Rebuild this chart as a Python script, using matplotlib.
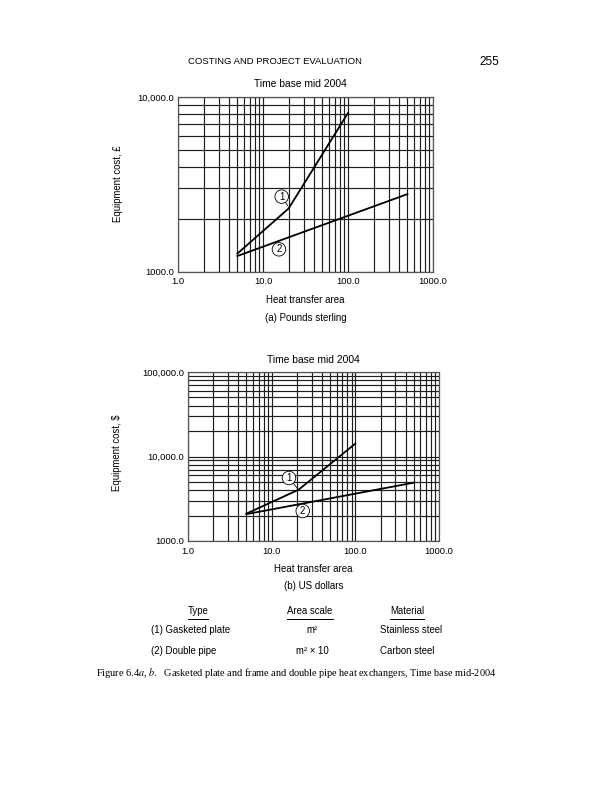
import matplotlib
matplotlib.use("Agg")
import matplotlib.pyplot as plt
from matplotlib.ticker import FixedLocator, FixedFormatter, LogLocator, NullFormatter

plt.rcParams['font.family'] = ['Liberation Sans', 'DejaVu Sans']
plt.rcParams['mathtext.fontset'] = 'stix'

W, H = 612, 800

# chart (a) pounds sterling
a_plate_x = [5, 20, 100]
a_plate_y = [1270, 2300, 8100]
a_pipe_x = [5, 500]
a_pipe_y = [1230, 2780]

# chart (b) US dollars
b_plate_x = [5, 21, 100]
b_plate_y = [2110, 4050, 14200]
b_pipe_x = [5, 500]
b_pipe_y = [2080, 4900]

x_ticks = [1, 10, 100, 1000]
x_labels = ['1.0', '10.0', '100.0', '1000.0']
a_y_ticks = [1000, 10000]
a_y_labels = ['1000.0', '10,000.0']
b_y_ticks = [1000, 10000, 100000]
b_y_labels = ['1000.0', '10,000.0', '100,000.0']

table_head = ['Type', 'Area scale', 'Material']
table_rows = [['(1) Gasketed plate', 'm²', 'Stainless steel'],
              ['(2) Double pipe', 'm² × 10', 'Carbon steel']]


def fx(x):
    return x / W


def fy(y):
    return 1 - y / H


def make_axes(fig, left, top, right, bottom, yticks, ylabels, ylim):
    ax = fig.add_axes([fx(left), fy(bottom), (right - left) / W, (bottom - top) / H])
    ax.set_xscale('log')
    ax.set_yscale('log')
    ax.set_xlim(1, 1000)
    ax.set_ylim(*ylim)
    ax.xaxis.set_major_locator(FixedLocator(x_ticks))
    ax.xaxis.set_major_formatter(FixedFormatter(x_labels))
    ax.xaxis.set_minor_locator(LogLocator(base=10, subs=range(2, 10)))
    ax.xaxis.set_minor_formatter(NullFormatter())
    ax.yaxis.set_major_locator(FixedLocator(yticks))
    ax.yaxis.set_major_formatter(FixedFormatter(ylabels))
    ax.yaxis.set_minor_locator(LogLocator(base=10, subs=range(2, 10)))
    ax.yaxis.set_minor_formatter(NullFormatter())
    ax.tick_params(which='both', length=0, labelsize=6.8)
    ax.tick_params(axis='x', pad=4)
    ax.tick_params(axis='y', pad=3)
    ax.grid(which='both', color='#1e1e1e', linewidth=0.85)
    for s in ax.spines.values():
        s.set_color('#555555')
        s.set_linewidth(0.9)
    return ax


def circled(ax, num, xy, target=None):
    kw = dict(fontsize=7, ha='center', va='center', zorder=5,
              bbox=dict(boxstyle='circle,pad=0.18', fc='white', ec='black', lw=0.6))
    if target is None:
        ax.text(xy[0], xy[1], num, **kw)
    else:
        ax.annotate(num, xy=target, xytext=xy,
                    arrowprops=dict(arrowstyle='-', color='black', lw=0.6,
                                    shrinkA=0, shrinkB=0), **kw)


fig = plt.figure(figsize=(W / 100, H / 100), dpi=100)

fig.text(fx(275), fy(62), 'COSTING AND PROJECT EVALUATION', fontsize=6.8,
         ha='center', va='center')
fig.text(fx(489), fy(62), '255', fontsize=8.5, ha='center', va='center')

# (a)
ax1 = make_axes(fig, 178, 97, 433, 271.7, a_y_ticks, a_y_labels, (1000, 10000))
ax1.plot(a_plate_x, a_plate_y, color='black', lw=1.3, zorder=4)
ax1.plot(a_pipe_x, a_pipe_y, color='black', lw=1.3, zorder=4)
circled(ax1, '1', (16.6, 2690), target=(19.6, 2380))
circled(ax1, '2', (15.4, 1343))
fig.text(fx(300), fy(84), 'Time base mid 2004', fontsize=7.4, ha='center', va='center')
fig.text(fx(118), fy(184), 'Equipment cost, £', fontsize=6.9, rotation=90,
         ha='center', va='center')
fig.text(fx(305.5), fy(300), 'Heat transfer area', fontsize=7, ha='center', va='center')
fig.text(fx(305.5), fy(318), '(a) Pounds sterling', fontsize=7, ha='center', va='center')

# (b)
ax2 = make_axes(fig, 188, 372, 439, 541, b_y_ticks, b_y_labels, (1000, 100000))
ax2.plot(b_plate_x, b_plate_y, color='black', lw=1.3, zorder=4)
ax2.plot(b_pipe_x, b_pipe_y, color='black', lw=1.3, zorder=4)
circled(ax2, '1', (16.1, 5570), target=(20.6, 4120))
circled(ax2, '2', (23.5, 2265))
fig.text(fx(313), fy(360), 'Time base mid 2004', fontsize=7.4, ha='center', va='center')
fig.text(fx(117), fy(453), 'Equipment cost, $', fontsize=6.9, rotation=90,
         ha='center', va='center')
fig.text(fx(313.5), fy(569), 'Heat transfer area', fontsize=7, ha='center', va='center')
fig.text(fx(313.5), fy(586), '(b) US dollars', fontsize=7, ha='center', va='center')

# table under the charts
col_x = [198, 310, 407]
head_texts = []
for cx, h in zip(col_x, table_head):
    head_texts.append(fig.text(fx(cx), fy(611), h, fontsize=6.9, ha='center', va='center'))
row_y = [630, 651]
for ry, row in zip(row_y, table_rows):
    fig.text(fx(151), fy(ry), row[0], fontsize=6.9, ha='left', va='center')
    fig.text(fx(312), fy(ry), row[1], fontsize=6.9, ha='center', va='center')
    fig.text(fx(380), fy(ry), row[2], fontsize=6.9, ha='left', va='center')

fig.canvas.draw()
r = fig.canvas.get_renderer()
for t in head_texts:
    bb = t.get_window_extent(r)
    fig.add_artist(plt.Line2D([bb.x0 / W, bb.x1 / W], [fy(618.5), fy(618.5)],
                              color='black', lw=0.7))

fig.text(fx(96), fy(673),
         'Figure 6.4$a$, $b$.   Gasketed plate and frame and double pipe heat exchangers, Time base mid-2004',
         fontsize=7.4, family=['Liberation Serif', 'DejaVu Serif'], ha='left', va='center')

fig.savefig('out.png', dpi=100)
